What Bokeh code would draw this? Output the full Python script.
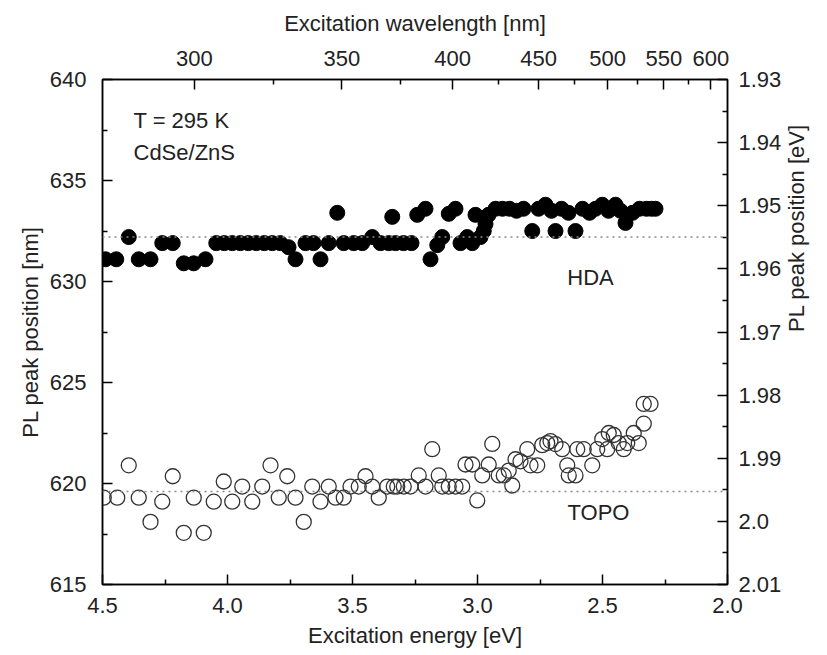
import math
from bokeh.plotting import figure
from bokeh.models import (Range1d, LinearAxis, FixedTicker, CustomJSTickFormatter, Span)
from bokeh.core.properties import value
from bokeh.embed import file_html
from bokeh.resources import INLINE

# ---------------- data ----------------
hda_energy = [4.488, 4.445, 4.395, 4.355, 4.308, 4.261, 4.219, 4.175, 4.135, 4.088,
              4.045, 4.013, 3.981, 3.949, 3.917, 3.885, 3.853, 3.821, 3.789,
              3.756, 3.728, 3.688, 3.656, 3.628, 3.595, 3.561, 3.535, 3.495, 3.461,
              3.421, 3.388, 3.355, 3.341, 3.328, 3.296, 3.264, 3.241, 3.208, 3.188,
              3.161, 3.141, 3.115, 3.088, 3.068, 3.041, 3.021, 3.008, 2.988, 2.975,
              2.968, 2.956, 2.928, 2.900, 2.872, 2.844, 2.816, 2.781, 2.756, 2.728,
              2.704, 2.688, 2.664, 2.636, 2.608, 2.580, 2.552, 2.528, 2.501, 2.476,
              2.448, 2.428, 2.408, 2.380, 2.352, 2.324, 2.304, 2.288]
hda_peak = [631.1, 631.1, 632.2, 631.1, 631.1, 631.9, 631.9, 630.9, 630.9, 631.1,
            631.9, 631.9, 631.9, 631.9, 631.9, 631.9, 631.9, 631.9, 631.9,
            631.7, 631.1, 631.9, 631.9, 631.1, 631.9, 633.4, 631.9, 631.9, 631.9,
            632.2, 631.9, 631.9, 633.2, 631.9, 631.9, 631.9, 633.3, 633.6, 631.1,
            631.8, 632.2, 633.35, 633.6, 631.9, 632.2, 631.9, 633.3, 632.2, 632.5,
            632.85, 633.3, 633.6, 633.6, 633.6, 633.5, 633.6, 632.5, 633.6, 633.8,
            633.5, 632.5, 633.6, 633.4, 632.5, 633.6, 633.4, 633.6, 633.8, 633.5,
            633.8, 633.5, 632.9, 633.4, 633.6, 633.6, 633.6, 633.6]

topo_energy = [4.495, 4.441, 4.395, 4.355, 4.308, 4.261, 4.219, 4.175, 4.135, 4.095,
               4.055, 4.015, 3.981, 3.941, 3.901, 3.861, 3.828, 3.795, 3.761, 3.728,
               3.695, 3.661, 3.628, 3.595, 3.568, 3.535, 3.508, 3.475, 3.448, 3.421,
               3.395, 3.361, 3.335, 3.321, 3.295, 3.268, 3.235, 3.208, 3.181, 3.155,
               3.141, 3.115, 3.088, 3.061, 3.048, 3.021, 3.001, 2.981, 2.955, 2.941,
               2.915, 2.895, 2.875, 2.861, 2.848, 2.828, 2.801, 2.788, 2.761, 2.741,
               2.721, 2.708, 2.688, 2.661, 2.641, 2.635, 2.608, 2.601, 2.575, 2.541,
               2.521, 2.501, 2.481, 2.475, 2.455, 2.435, 2.415, 2.401, 2.375, 2.355,
               2.335, 2.335, 2.308]
topo_peak = [619.3, 619.3, 620.9, 619.3, 618.1, 619.1, 620.36, 617.56, 619.3, 617.56,
             619.1, 620.1, 619.1, 619.85, 619.1, 619.85, 620.9, 619.3, 620.36, 619.3,
             618.1, 619.85, 619.1, 619.85, 619.3, 619.3, 619.85, 619.85, 620.36, 619.85,
             619.3, 619.85, 619.85, 619.85, 619.85, 619.85, 620.4, 619.85, 621.7, 620.4,
             619.85, 619.85, 619.85, 619.85, 620.94, 620.94, 619.16, 620.4, 620.94, 621.96,
             620.4, 620.4, 620.64, 619.9, 621.2, 621.1, 621.7, 620.9, 620.9, 621.9,
             622.0, 622.1, 621.95, 621.7, 620.9, 620.4, 620.4, 621.7, 621.7, 620.9,
             621.7, 622.2, 621.7, 622.5, 622.4, 622.0, 621.7, 622.0, 622.5, 622.0,
             622.96, 623.94, 623.94]

hda_reference = 632.2
topo_reference = 619.6

energy_ticks = [4.5, 4.0, 3.5, 3.0, 2.5, 2.0]
energy_minor = [4.25, 3.75, 3.25, 2.75, 2.25]
peak_ticks = [615, 620, 625, 630, 635, 640]
peak_minor = [617.5, 622.5, 627.5, 632.5, 637.5]
wavelength_ticks = [300, 350, 400, 450, 500, 550, 600]
wavelength_minor = [325, 375, 425, 475, 525, 575]
ev_ticks = [1.93, 1.94, 1.95, 1.96, 1.97, 1.98, 1.99, 2.00, 2.01]
ev_labels = ["1.93", "1.94", "1.95", "1.96", "1.97", "1.98", "1.99", "2.0", "2.01"]
ev_minor = [1.935, 1.945, 1.955, 1.965, 1.975, 1.985, 1.995, 2.005]

HC = 1239.84

FONT = "Liberation Sans"
TXT = "#222222"

p = figure(width=827, height=652, output_backend="svg", toolbar_location=None,
           x_range=Range1d(4.5, 2.0), y_range=Range1d(615, 640),
           min_border_left=102, min_border_right=100, min_border_top=79, min_border_bottom=68)
p.xgrid.visible = False
p.ygrid.visible = False
p.outline_line_color = "black"
p.outline_line_width = 1.5
p.background_fill_color = "white"
p.border_fill_color = "white"

p.extra_y_ranges = {"ev": Range1d(2.01, 1.93)}

def style(ax, label, standoff, title_standoff):
    ax.axis_label = label
    ax.axis_label_text_font = FONT
    ax.axis_label_text_font_size = "22px"
    ax.axis_label_text_font_style = "normal"
    ax.axis_label_text_color = TXT
    ax.axis_label_standoff = title_standoff
    ax.major_label_text_font = FONT
    ax.major_label_text_font_size = "22px"
    ax.major_label_text_color = TXT
    ax.major_label_standoff = standoff
    ax.major_tick_in = 10
    ax.major_tick_out = 0
    ax.minor_tick_in = 5
    ax.minor_tick_out = 0
    ax.axis_line_width = 1.5
    ax.major_tick_line_width = 1.5
    ax.minor_tick_line_width = 1.5
    ax.axis_line_color = "black"
    ax.major_tick_line_color = "black"
    ax.minor_tick_line_color = "black"

bottom = p.xaxis[0]
bottom.ticker = FixedTicker(ticks=energy_ticks, minor_ticks=energy_minor)
bottom.formatter = CustomJSTickFormatter(code="return tick.toFixed(1);")
style(bottom, "Excitation energy [eV]", 13, 7)

left = p.yaxis[0]
left.ticker = FixedTicker(ticks=peak_ticks, minor_ticks=peak_minor)
left.formatter = CustomJSTickFormatter(code="return tick.toFixed(0);")
style(left, "PL peak position [nm]", 16, 4)
left.major_label_orientation = "horizontal"

top = LinearAxis()
top.ticker = FixedTicker(ticks=[HC / w for w in wavelength_ticks],
                         minor_ticks=[HC / w for w in wavelength_minor])
top.formatter = CustomJSTickFormatter(args=dict(hc=HC),
                                      code="return Math.round(hc / tick).toString();")
style(top, "Excitation wavelength [nm]", 14, 12)
p.add_layout(top, "above")

right = LinearAxis(y_range_name="ev")
right.ticker = FixedTicker(ticks=ev_ticks, minor_ticks=ev_minor)
right.formatter = CustomJSTickFormatter(args=dict(t=ev_ticks, l=ev_labels), code="""
for (let i = 0; i < t.length; i++) { if (Math.abs(t[i] - tick) < 1e-6) return l[i]; }
return tick.toFixed(2);""")
style(right, "PL peak position [eV]", 11, 12)
right.axis_label_orientation = math.pi / 2
p.add_layout(right, "right")

# reference lines
p.add_layout(Span(location=hda_reference, dimension="width", line_color="#8a8a8a",
                  line_width=1.5, line_dash="2 4"))
p.add_layout(Span(location=topo_reference, dimension="width", line_color="#8a8a8a",
                  line_width=1.5, line_dash="2 4"))

# data
p.scatter(topo_energy, topo_peak, marker="circle", size=15, fill_color=None,
          line_color="#333333", line_width=1.3)
p.scatter(hda_energy, hda_peak, marker="circle", size=15, fill_color="black",
          line_color="black")

# annotations
p.text(x=[4.376, 4.376], y=[637.95, 636.4], text=["T = 295 K", "CdSe/ZnS"],
       text_font=value(FONT), text_font_size=value("22px"), text_color=TXT,
       text_align="left", text_baseline="middle")
p.text(x=[2.548, 2.516], y=[630.2, 618.56], text=["HDA", "TOPO"],
       text_font=value(FONT), text_font_size=value("22px"), text_color=TXT,
       text_align="center", text_baseline="middle")

open("out.html", "w").write(file_html(p, INLINE))
